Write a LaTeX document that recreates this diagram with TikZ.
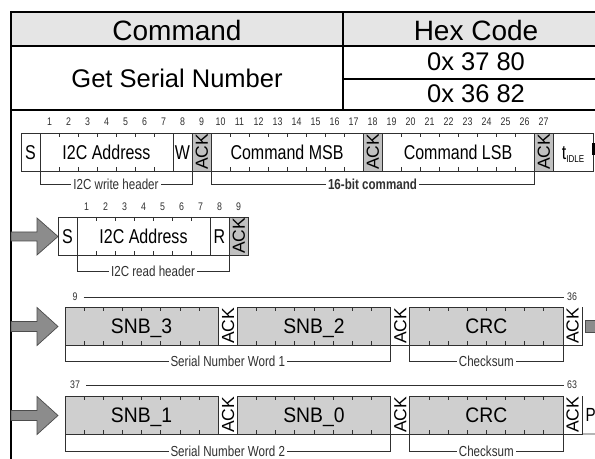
\documentclass[tikz,border=0pt]{standalone}
\usepackage{fontspec}
\usepackage{graphicx}
\setmainfont{Liberation Sans}
\usetikzlibrary{calc}
\definecolor{hdrgray}{HTML}{E5E5E5}
\definecolor{ackgray}{HTML}{C0C0C0}
\definecolor{boxgray}{HTML}{CFCFCF}
\definecolor{arrgray}{HTML}{8C8C8C}
\definecolor{linegray}{HTML}{303030}
\newcommand\fsz[1]{\fontsize{#1bp}{#1bp}\selectfont}
\newcommand\nar[1]{\scalebox{0.8}[1]{#1}}
\newcommand\mnar[1]{\scalebox{0.92}[1]{#1}}
\newcommand\bitfield[7]{%
  \pgfmathsetmacro\bfw{#4*#5}%
  \node[fld,#6,minimum width=\bfw bp] (#1) at (#2,#3) {#7};%
}
\newcommand\bitticks[3]{%
  \pgfmathtruncatemacro\btn{#2-1}%
  \foreach \i in {1,...,\btn}{%
    \draw[tick] ([xshift={(\i*#3)*1bp}]#1.north west) -- ++(0,4);
    \draw[tick] ([xshift={(\i*#3)*1bp}]#1.south west) -- ++(0,-4);
  }%
}
\begin{document}
\begin{tikzpicture}[x=1bp,y=-1bp,
  tabline/.style={line width=2bp,black},
  tabhead/.style={inner sep=0pt,font=\fsz{28}},
  tabtext/.style={inner sep=0pt,font=\fsz{25.5}},
  fld/.style={draw=linegray,line width=0.8bp,inner sep=0pt,outer sep=0pt,
    minimum height=38bp,anchor=north west,font=\fsz{20},
    text height=14.3bp,text depth=0pt},
  bigfld/.style={font=\fsz{21},text height=15bp},
  gfld/.style={fill=boxgray},
  ackbox/.style={fill=ackgray},
  ackopen/.style={draw=none},
  fldline/.style={draw=linegray,line width=0.8bp},
  acktxt/.style={rotate=90,inner sep=0pt,font=\fsz{17.5},text height=12.5bp,text depth=0pt},
  tick/.style={draw=linegray,line width=0.7bp},
  bitnum/.style={inner sep=0pt,font=\fsz{11},text=linegray},
  brk/.style={draw=linegray,line width=0.7bp},
  brktxt/.style={fill=white,inner sep=2bp,font=\fsz{14.5},text=linegray},
  blockarrow/.style={fill=arrgray,draw=black!70,line width=0.7bp,line join=miter}
]
\useasboundingbox (0,0) rectangle (595,459);
\clip (0,0) rectangle (595,459);
\fill[white] (0,0) rectangle (595,459);
% ---------------- table ----------------
\fill[hdrgray] (11,12) rectangle (609,46);
\node[tabhead] (hcmd) at (177,30) {Command};
\node[tabhead] (hhex) at (476,30) {Hex Code};
\node[tabtext] (gsn) at (177,78) {Get Serial Number};
\node[tabtext] (hx1) at (476,62) {0x 37 80};
\node[tabtext] (hx2) at (476,94) {0x 36 82};
\draw[tabline] (11,12) -- (609,12);
\draw[tabline] (11,46) -- (609,46);
\draw[tabline] (343,79) -- (609,79);
\draw[tabline] (11,110) -- (609,110);
\draw[tabline] (343,12) -- (343,110);
\draw[tabline] (11,11) -- (11,460);
% ---------------- row 1 ----------------
\foreach \k in {1,...,27}{\node[bitnum] (na\k) at ({40+(\k-0.5)*19},122) {\nar{\k}};}
\bitfield{s1}{21}{133}{1}{19}{}{\nar{S}}
\bitfield{addr1}{40}{133}{7}{19}{}{\nar{I2C Address}}
\bitfield{w1}{173}{133}{1}{19}{}{\nar{W}}
\bitfield{ack1}{192}{133}{1}{19}{ackbox}{}
\bitfield{msb}{211}{133}{8}{19}{}{\nar{Command MSB}}
\bitfield{ack2}{363}{133}{1}{19}{ackbox}{}
\bitfield{lsb}{382}{133}{8}{19}{}{\nar{Command LSB}}
\bitfield{ack3}{534}{133}{1}{19}{ackbox}{}
\bitfield{idle}{553}{133}{1}{40}{}{\nar{t\raisebox{-3bp}{\fsz{10}IDLE}}}
\node[acktxt] (ack1t) at (ack1) {ACK};
\node[acktxt] (ack2t) at (ack2) {ACK};
\node[acktxt] (ack3t) at (ack3) {ACK};
\bitticks{addr1}{7}{19}
\bitticks{msb}{8}{19}
\bitticks{lsb}{8}{19}
\fill[black] (592,143) rectangle (595,155);
\draw[brk] (addr1.south west) -- ++(0,13) -| (ack1.south west);
\node[brktxt] (wh) at ($(addr1.south west)!0.5!(ack1.south west)+(0,13)$) {\nar{I2C write header}};
\draw[brk] (msb.south west) -- ++(0,13) -| (ack3.south west);
\node[brktxt] (cmd16) at ($(msb.south west)!0.5!(ack3.south west)+(0,13)$) {\nar{\bfseries 16-bit command}};
% ---------------- row 2 ----------------
\draw[blockarrow] (11,232) -- (37,232) -- (37,218) -- (58,236.5) -- (37,255) -- (37,241) -- (11,241) -- cycle;
\foreach \k in {1,...,9}{\node[bitnum] (nb\k) at ({77+(\k-0.5)*19},207) {\nar{\k}};}
\bitfield{s2}{58}{217}{1}{19}{}{\nar{S}}
\bitfield{addr2}{77}{217}{7}{19}{}{\nar{I2C Address}}
\bitfield{r2}{210}{217}{1}{19}{}{\nar{R}}
\bitfield{ack4}{229}{217}{1}{19}{ackbox}{}
\node[acktxt] (ack4t) at (ack4) {ACK};
\bitticks{addr2}{7}{19}
\draw[brk] (addr2.south west) -- ++(0,16) -| (ack4.south west);
\node[brktxt] (rh) at ($(addr2.south west)!0.5!(ack4.south west)+(0,16)$) {\nar{I2C read header}};
% ---------------- row 3 ----------------
\draw[blockarrow] (11,321.5) -- (37,321.5) -- (37,307.5) -- (58,326.5) -- (37,345.5) -- (37,331.5) -- (11,331.5) -- cycle;
\node[bitnum] (n9) at (75,297) {\nar{9}};
\node[bitnum] (n36) at (572,297) {\nar{36}};
\draw[brk] ([xshift=6bp]n9.east) -- ([xshift=-3bp]n36.west);
\bitfield{snb3}{65}{307}{8}{19.15}{gfld,bigfld}{\mnar{SNB\_3}}
\bitfield{ack5}{218.2}{307}{1}{19.15}{ackopen}{}
\bitfield{snb2}{237.35}{307}{8}{19.15}{gfld,bigfld}{\mnar{SNB\_2}}
\bitfield{ack6}{390.55}{307}{1}{19.15}{ackopen}{}
\bitfield{crc1}{409.7}{307}{8}{19.15}{gfld,bigfld}{\mnar{CRC}}
\bitfield{ack7}{562.9}{307}{1}{19.15}{ackopen}{}
\draw[fldline] (ack5.south west) -- (ack5.south east);
\draw[fldline] (ack6.south west) -- (ack6.south east);
\draw[fldline] (ack7.south west) -- (ack7.south east) -- (ack7.north east);
\node[acktxt] (ack5t) at (ack5) {ACK};
\node[acktxt] (ack6t) at (ack6) {ACK};
\node[acktxt] (ack7t) at (ack7) {ACK};
\bitticks{snb3}{8}{19.15}
\bitticks{snb2}{8}{19.15}
\bitticks{crc1}{8}{19.15}
\draw[blockarrow] (585,320) rectangle (600,332);
\draw[brk] (snb3.south west) -- ++(0,16) -| (ack6.south west);
\node[brktxt] (sw1) at ($(snb3.south west)!0.5!(ack6.south west)+(0,16)$) {\nar{Serial Number Word 1}};
\draw[brk] (crc1.south west) -- ++(0,16) -| (crc1.south east);
\node[brktxt] (cs1) at ($(crc1.south west)!0.5!(crc1.south east)+(0,16)$) {\nar{Checksum}};
% ---------------- row 4 ----------------
\draw[blockarrow] (11,410.5) -- (37,410.5) -- (37,396.5) -- (58,415.5) -- (37,434.5) -- (37,420.5) -- (11,420.5) -- cycle;
\node[bitnum] (n37) at (75,385) {\nar{37}};
\node[bitnum] (n63) at (572,385) {\nar{63}};
\draw[brk] ([xshift=6bp]n37.east) -- ([xshift=-3bp]n63.west);
\bitfield{snb1}{65}{396}{8}{19.15}{gfld,bigfld}{\mnar{SNB\_1}}
\bitfield{ack8}{218.2}{396}{1}{19.15}{ackopen}{}
\bitfield{snb0}{237.35}{396}{8}{19.15}{gfld,bigfld}{\mnar{SNB\_0}}
\bitfield{ack9}{390.55}{396}{1}{19.15}{ackopen}{}
\bitfield{crc2}{409.7}{396}{8}{19.15}{gfld,bigfld}{\mnar{CRC}}
\bitfield{ack10}{562.9}{396}{1}{19.15}{ackopen}{}
\draw[fldline] (ack8.south west) -- (ack8.south east);
\draw[fldline] (ack9.south west) -- (ack9.south east);
\draw[fldline] (ack10.south west) -- (ack10.south east) -- (ack10.north east);
\node[acktxt] (ack8t) at (ack8) {ACK};
\node[acktxt] (ack9t) at (ack9) {ACK};
\node[acktxt] (ack10t) at (ack10) {ACK};
\bitticks{snb1}{8}{19.15}
\bitticks{snb0}{8}{19.15}
\bitticks{crc2}{8}{19.15}
\node[anchor=west,inner sep=0pt,font=\fsz{19}] (pstop) at (585.5,415) {\nar{P}};
\draw[fldline] (ack10.south east) -- (600,434);
\draw[brk] (snb1.south west) -- ++(0,17) -| (ack9.south west);
\node[brktxt] (sw2) at ($(snb1.south west)!0.5!(ack9.south west)+(0,17)$) {\nar{Serial Number Word 2}};
\draw[brk] (crc2.south west) -- ++(0,17) -| (crc2.south east);
\node[brktxt] (cs2) at ($(crc2.south west)!0.5!(crc2.south east)+(0,17)$) {\nar{Checksum}};
\end{tikzpicture}
\end{document}
